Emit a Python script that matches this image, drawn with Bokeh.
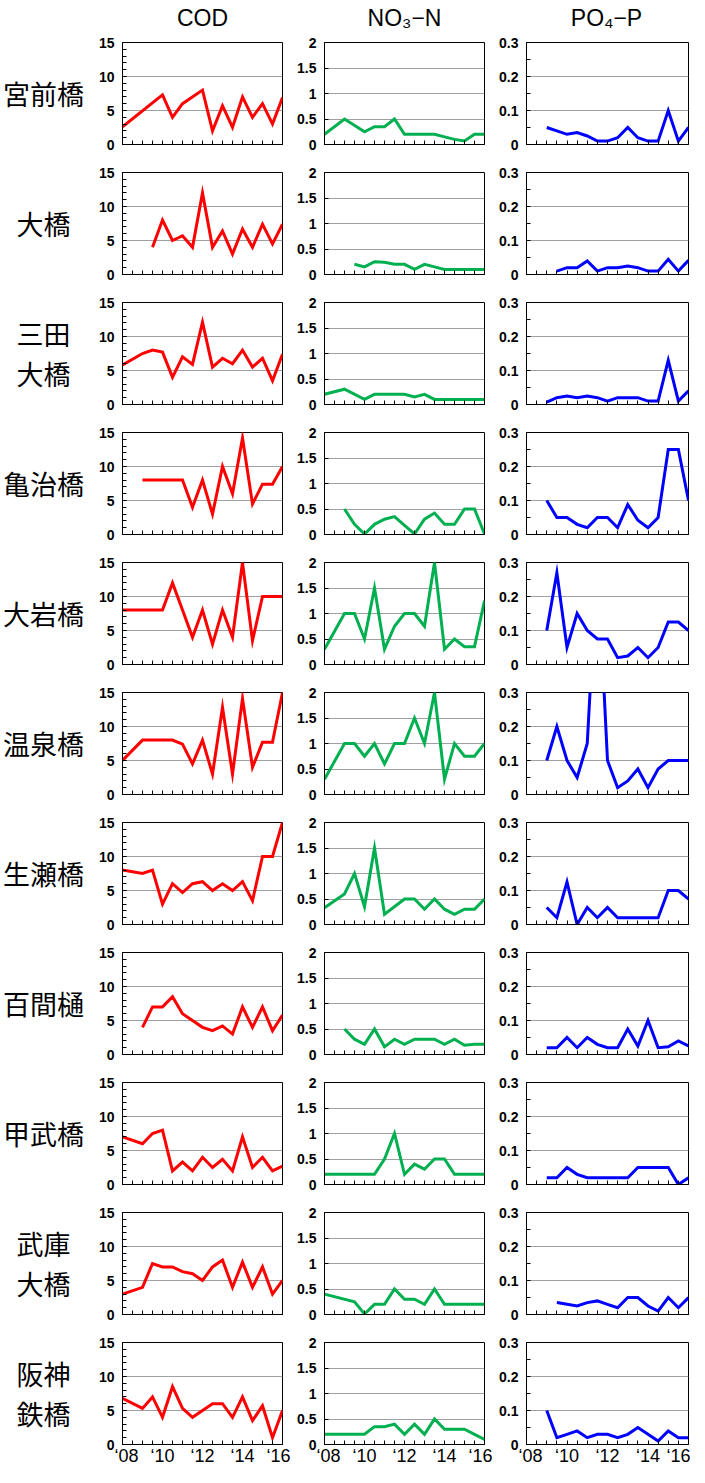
from bokeh.plotting import figure
from bokeh.layouts import row, column
from bokeh.models import FixedTicker, NumeralTickFormatter, Range1d
from bokeh.embed import file_html
from bokeh.resources import INLINE
from bokeh.core.properties import value

# x index: half-year steps, 0 = 2008 ... 16 = 2016
x_index = list(range(17))
year_labels = ["‘08", "‘10", "‘12", "‘14", "‘16"]

stations = ["宮前橋", "大橋", "三田\n大橋", "亀治橋", "大岩橋", "温泉橋",
            "生瀬橋", "百間樋", "甲武橋", "武庫\n大橋", "阪神\n鉄橋"]
params = ["COD", "NO₃−N", "PO₄−P"]

# ---- COD (mg/L) ----
cod_miyamae = [2.6, None, None, None, 7.3, 4.0, 6.0, None, 8.0, 2.0, 5.7, 2.5, 7.0, 4.0, 6.0, 3.0, 6.9]
cod_ohashi = [None, None, None, 4.0, 8.0, 5.0, 5.7, 4.0, 12.0, 4.0, 6.4, 3.0, 6.7, 4.0, 7.4, 4.5, 7.4]
cod_sanda = [5.8, None, 7.5, 8.0, 7.7, 4.0, 7.0, 5.9, 12.1, 5.5, 6.8, 6.0, 8.0, 5.5, 6.8, 3.5, 7.4]
cod_kameji = [None, None, 8.0, 8.0, 8.0, 8.0, 8.0, 4.0, 8.0, 3.0, 10.0, 6.0, 14.2, 4.5, 7.4, 7.4, 10.0]
cod_oiwa = [8.0, 8.0, 8.0, 8.0, 8.0, 12.0, 8.0, 4.0, 8.0, 3.0, 8.0, 4.0, 15.0, 3.5, 10.0, 10.0, 10.0]
cod_onsen = [5.0, None, 8.0, 8.0, 8.0, 8.0, 7.4, 4.5, 8.0, 3.0, 12.8, 3.0, 14.1, 4.0, 7.7, 7.7, 15.0]
cod_namaze = [8.0, None, 7.5, 8.0, 3.0, 6.0, 4.7, 6.0, 6.3, 5.0, 6.0, 5.0, 6.3, 3.5, 10.0, 10.0, 15.0]
cod_hyakken = [None, None, 4.0, 7.0, 7.0, 8.5, 6.0, 5.0, 4.0, 3.5, 4.2, 3.0, 7.0, 4.0, 7.0, 3.5, 5.8]
cod_kobu = [7.0, None, 6.0, 7.5, 8.0, 2.0, 3.3, 2.0, 4.0, 2.5, 3.7, 2.0, 7.0, 2.5, 4.0, 2.0, 2.7]
cod_muko = [3.0, None, 4.0, 7.5, 7.0, 7.0, 6.3, 6.0, 5.0, 7.0, 8.0, 4.0, 7.7, 4.0, 7.0, 3.0, 5.0]
cod_hanshin = [6.8, None, 5.3, 7.0, 4.0, 8.5, 5.3, 4.0, 5.0, 6.0, 6.0, 4.0, 7.0, 3.5, 5.7, 1.0, 5.0]

# ---- NO3-N (mg/L) ----
no3_miyamae = [0.2, None, 0.5, None, 0.25, 0.35, 0.35, 0.5, 0.2, 0.2, 0.2, 0.2, 0.15, 0.1, 0.07, 0.2, 0.2]
no3_ohashi = [None, None, None, 0.2, 0.15, 0.25, 0.24, 0.2, 0.2, 0.1, 0.2, 0.15, 0.1, 0.1, 0.1, 0.1, 0.1]
no3_sanda = [0.2, None, 0.3, None, 0.1, 0.2, 0.2, 0.2, 0.2, 0.15, 0.2, 0.1, 0.1, 0.1, 0.1, 0.1, 0.1]
no3_kameji = [None, None, 0.5, 0.2, 0.01, 0.2, 0.3, 0.35, 0.18, 0.01, 0.3, 0.42, 0.2, 0.2, 0.5, 0.5, 0.01]
no3_oiwa = [0.3, None, 1.0, 1.0, 0.5, 1.5, 0.3, 0.75, 1.0, 1.0, 0.75, 2.0, 0.3, 0.5, 0.35, 0.35, 1.25]
no3_onsen = [0.3, None, 1.0, 1.0, 0.75, 1.0, 0.6, 1.0, 1.0, 1.5, 1.0, 2.0, 0.3, 1.0, 0.75, 0.75, 1.0]
no3_namaze = [0.33, None, 0.6, 1.0, 0.35, 1.5, 0.2, None, 0.5, 0.5, 0.3, 0.5, 0.3, 0.2, 0.3, 0.3, 0.5]
no3_hyakken = [None, None, 0.5, 0.3, 0.2, 0.5, 0.15, 0.3, 0.2, 0.3, 0.3, 0.3, 0.2, 0.3, 0.18, 0.2, 0.2]
no3_kobu = [0.2, 0.2, 0.2, 0.2, 0.2, 0.2, 0.5, 1.0, 0.2, 0.4, 0.3, 0.5, 0.5, 0.2, 0.2, 0.2, 0.2]
no3_muko = [0.4, None, None, 0.25, 0.01, 0.2, 0.2, 0.5, 0.3, 0.3, 0.2, 0.5, 0.2, 0.2, 0.2, 0.2, 0.2]
no3_hanshin = [0.2, 0.2, 0.2, 0.2, 0.2, 0.35, 0.35, 0.4, 0.2, 0.4, 0.2, 0.5, 0.3, 0.3, 0.3, 0.2, 0.1]

# ---- PO4-P (mg/L) ----
po4_miyamae = [None, None, 0.05, 0.04, 0.03, 0.035, 0.025, 0.01, 0.01, 0.02, 0.05, 0.02, 0.01, 0.01, 0.1, 0.01, 0.05]
po4_ohashi = [None, None, None, 0.01, 0.02, 0.02, 0.04, 0.01, 0.02, 0.02, 0.025, 0.02, 0.01, 0.01, 0.045, 0.01, 0.042]
po4_sanda = [None, None, 0.007, 0.02, 0.025, 0.02, 0.025, 0.02, 0.01, 0.02, 0.02, 0.02, 0.01, 0.01, 0.13, 0.01, 0.04]
po4_kameji = [None, None, 0.1, 0.05, 0.05, 0.03, 0.02, 0.05, 0.05, 0.02, 0.088, 0.042, 0.02, 0.05, 0.25, 0.25, 0.1]
po4_oiwa = [None, None, 0.1, 0.27, 0.05, 0.15, 0.1, 0.075, 0.075, 0.02, 0.025, 0.05, 0.02, 0.05, 0.125, 0.125, 0.1]
po4_onsen = [None, None, 0.1, 0.2, 0.1, 0.05, 0.15, 0.7, 0.1, 0.02, 0.04, 0.075, 0.02, 0.075, 0.1, 0.1, 0.1]
po4_namaze = [None, None, 0.05, 0.02, 0.125, 0.0, 0.05, 0.02, 0.05, 0.02, 0.02, 0.02, 0.02, 0.02, 0.1, 0.1, 0.075]
po4_hyakken = [None, None, 0.02, 0.02, 0.05, 0.02, 0.05, 0.03, 0.02, 0.02, 0.075, 0.025, 0.1, 0.02, 0.023, 0.04, 0.025]
po4_kobu = [None, None, 0.02, 0.02, 0.05, 0.03, 0.02, 0.02, 0.02, 0.02, 0.02, 0.05, 0.05, 0.05, 0.05, 0.0, 0.02]
po4_muko = [None, None, None, 0.035, None, 0.025, 0.035, 0.04, 0.03, 0.02, 0.05, 0.05, 0.025, 0.01, 0.05, 0.02, 0.05]
po4_hanshin = [None, None, 0.1, 0.02, 0.03, 0.04, 0.02, 0.03, 0.03, 0.02, 0.03, 0.05, 0.03, 0.01, 0.04, 0.02, 0.02]

cod_all = [cod_miyamae, cod_ohashi, cod_sanda, cod_kameji, cod_oiwa, cod_onsen,
           cod_namaze, cod_hyakken, cod_kobu, cod_muko, cod_hanshin]
no3_all = [no3_miyamae, no3_ohashi, no3_sanda, no3_kameji, no3_oiwa, no3_onsen,
           no3_namaze, no3_hyakken, no3_kobu, no3_muko, no3_hanshin]
po4_all = [po4_miyamae, po4_ohashi, po4_sanda, po4_kameji, po4_oiwa, po4_onsen,
           po4_namaze, po4_hyakken, po4_kobu, po4_muko, po4_hanshin]

# ---- layout / style ----
FH = 102
HEADER_H = 32
TOP = 10
BOTTOMS = [18] * 10 + [23]
LABEL_W = 86
YEAR_LABEL_POS = [0.4, 4, 8, 12, 15.6]

col_specs = [
    dict(series=cod_all, color="#FF0000", ymax=15, major=[0, 5, 10, 15],
         minor=list(range(16)), fw=160, lb=36, rb=12),
    dict(series=no3_all, color="#00B050", ymax=2, major=[0, 0.5, 1, 1.5, 2],
         minor=[], fw=160, lb=30, rb=12),
    dict(series=po4_all, color="#0000FF", ymax=0.3, major=[0, 0.1, 0.2, 0.3],
         minor=[0.05, 0.15, 0.25], fw=162, lb=29, rb=2),
]

TICK_FONT = "Liberation Sans"


def blank_fig(fw, fh, lb, rb, tb, bb):
    f = figure(frame_width=fw, frame_height=fh, x_range=Range1d(0, 1), y_range=Range1d(0, 1),
               x_axis_type=None, y_axis_type=None, tools="", toolbar_location=None,
               output_backend="svg", min_border_left=lb, min_border_right=rb,
               min_border_top=tb, min_border_bottom=bb)
    f.grid.visible = False
    f.outline_line_color = None
    return f


def data_fig(vals, spec, bottom, is_last):
    p = figure(frame_width=spec["fw"], frame_height=FH,
               x_range=Range1d(0, 16), y_range=Range1d(0, spec["ymax"]),
               tools="", toolbar_location=None, output_backend="svg",
               min_border_left=spec["lb"], min_border_right=spec["rb"],
               min_border_top=TOP, min_border_bottom=bottom)
    xs = [x for x, v in zip(x_index, vals) if v is not None]
    ys = [v for v in vals if v is not None]
    p.line(xs, ys, line_color=spec["color"], line_width=3, line_join="miter")

    p.outline_line_color = "black"
    p.outline_line_width = 1
    p.xgrid.visible = False

    yt = FixedTicker(ticks=spec["major"], minor_ticks=spec["minor"])
    p.yaxis.ticker = yt
    p.ygrid.ticker = yt
    p.ygrid.grid_line_color = "#A0A0A0"
    p.ygrid.grid_line_width = 1
    p.yaxis.formatter = NumeralTickFormatter(format="0.[0]")
    p.yaxis.axis_line_color = "black"
    p.yaxis.major_tick_in = 4
    p.yaxis.major_tick_out = 0
    p.yaxis.minor_tick_in = 4
    p.yaxis.minor_tick_out = 0
    p.yaxis.major_label_standoff = 8
    p.yaxis.major_label_text_font = TICK_FONT
    p.yaxis.major_label_text_font_style = "bold"
    p.yaxis.major_label_text_font_size = "14px"
    p.yaxis.major_label_text_color = "black"

    if is_last:
        xt = FixedTicker(ticks=YEAR_LABEL_POS, minor_ticks=x_index)
        p.xaxis.major_label_overrides = {pos: lab for pos, lab in zip(YEAR_LABEL_POS, year_labels)}
    else:
        xt = FixedTicker(ticks=[], minor_ticks=x_index)
    p.xaxis.ticker = xt
    p.xaxis.axis_line_color = "black"
    p.xaxis.major_tick_in = 0
    p.xaxis.major_tick_out = 0
    p.xaxis.minor_tick_in = 4
    p.xaxis.minor_tick_out = 0
    p.xaxis.major_label_standoff = 1
    p.xaxis.major_label_text_font = TICK_FONT
    p.xaxis.major_label_text_font_style = "normal"
    p.xaxis.major_label_text_font_size = "18px"
    p.xaxis.major_label_text_color = "black"
    return p


rows = []
# header row
header = [blank_fig(LABEL_W, HEADER_H, 0, 0, 0, 0)]
for spec, name in zip(col_specs, params):
    h = blank_fig(spec["fw"], HEADER_H, spec["lb"], spec["rb"], 0, 0)
    h.text(x=[0.5], y=[0.45], text=[name], text_align="center", text_baseline="middle",
           text_font=value("Liberation Sans"), text_font_size=value("23px"), text_color="black")
    header.append(h)
rows.append(row(*header, spacing=0))

n = len(stations)
for r in range(n):
    bottom = BOTTOMS[r]
    is_last = r == n - 1
    lf = blank_fig(LABEL_W, FH, 0, 0, TOP, bottom)
    lf.text(x=[0.5], y=[0.5], text=[stations[r]], text_align="center", text_baseline="middle",
            text_font=value("Noto Sans CJK JP"), text_font_size=value("27px"),
            text_color="black", text_line_height=1.05)
    figs = [lf]
    for spec in col_specs:
        figs.append(data_fig(spec["series"][r], spec, bottom, is_last))
    rows.append(row(*figs, spacing=0))

layout = column(*rows, spacing=0)
open("out.html", "w").write(file_html(layout, INLINE))
